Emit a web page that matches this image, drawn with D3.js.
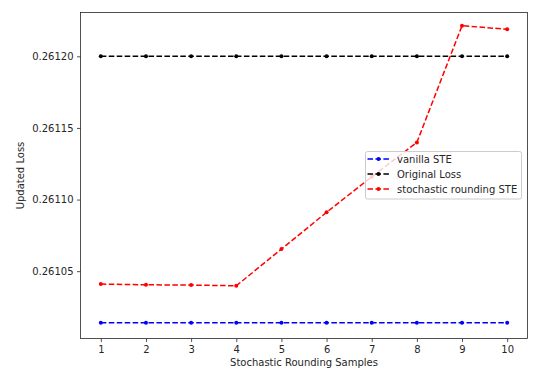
<!DOCTYPE html>
<html>
<head>
<meta charset="utf-8">
<title>Updated Loss</title>
<script src="https://cdn.jsdelivr.net/npm/d3@7"></script>
<style>
  body { margin: 0; background: #fff; }
  text { font-family: "DejaVu Sans", sans-serif; fill: #262626; }
</style>
</head>
<body>
<svg id="svg"></svg>
<script>
var WIDTH = 555, HEIGHT = 376;
var margin = {left: 80.5, top: 12.5, right: 27.5, bottom: 37.5};

// data
var samples = [1, 2, 3, 4, 5, 6, 7, 8, 9, 10];
var vanillaSTE = [0.2610140, 0.2610140, 0.2610140, 0.2610140, 0.2610140,
                  0.2610140, 0.2610140, 0.2610140, 0.2610140, 0.2610140];
var originalLoss = [0.26120, 0.26120, 0.26120, 0.26120, 0.26120,
                    0.26120, 0.26120, 0.26120, 0.26120, 0.26120];
var stochasticSTE = [0.2610410, 0.2610405, 0.2610403, 0.2610398, 0.2610654,
                     0.2610911, 0.2611159, 0.2611399, 0.2612214, 0.2612189];
var yTicks = [0.26105, 0.26110, 0.26115, 0.26120];

var series = [
  {name: "vanilla STE", values: vanillaSTE, color: "#0000ff"},
  {name: "Original Loss", values: originalLoss, color: "#000000"},
  {name: "stochastic rounding STE", values: stochasticSTE, color: "#ff0000"}
];

var svg = d3.select("#svg").attr("width", WIDTH).attr("height", HEIGHT);
var w = WIDTH - margin.left - margin.right;
var h = HEIGHT - margin.top - margin.bottom;
var g = svg.append("g").attr("transform", "translate(" + margin.left + "," + margin.top + ")");

var xScale = d3.scaleLinear().domain([0.55, 10.45]).range([0, w]);
var yScale = d3.scaleLinear().domain([0.2610030, 0.2612306]).range([h, 0]);

var xAxis = g.append("g").attr("transform", "translate(0," + h + ")")
  .call(d3.axisBottom(xScale).tickValues(samples).tickFormat(d3.format("d"))
    .tickSize(3.5).tickPadding(3.5));
var yAxis = g.append("g")
  .call(d3.axisLeft(yScale).tickValues(yTicks).tickFormat(d3.format(".5f"))
    .tickSize(3.5).tickPadding(3.5));
[xAxis, yAxis].forEach(function(a) {
  a.select(".domain").remove();
  a.selectAll("line").attr("stroke", "#262626").attr("stroke-width", 0.8);
  a.selectAll("text").attr("font-size", "10px").attr("fill", "#262626")
    .style("font-family", "'DejaVu Sans', sans-serif");
});

var line = d3.line()
  .x(function(d, i) { return xScale(samples[i]); })
  .y(function(d) { return yScale(d); });

series.forEach(function(s) {
  g.append("path").datum(s.values)
    .attr("d", line)
    .attr("fill", "none")
    .attr("stroke", s.color)
    .attr("stroke-width", 1.5)
    .attr("stroke-dasharray", "5.55,2.4");
  g.selectAll(null).data(s.values).enter().append("circle")
    .attr("cx", function(d, i) { return xScale(samples[i]); })
    .attr("cy", function(d) { return yScale(d); })
    .attr("r", 2)
    .attr("fill", s.color);
});

// frame
g.append("rect").attr("width", w).attr("height", h)
  .attr("fill", "none").attr("stroke", "#262626").attr("stroke-width", 0.8);

// axis labels
svg.append("text")
  .attr("x", margin.left + w / 2).attr("y", 366)
  .attr("text-anchor", "middle").attr("font-size", "10px")
  .text("Stochastic Rounding Samples");
svg.append("text")
  .attr("transform", "translate(24," + (margin.top + h / 2) + ") rotate(-90)")
  .attr("text-anchor", "middle").attr("font-size", "10px")
  .text("Updated Loss");

// legend
var lg = svg.append("g").attr("transform", "translate(365.5,151.5)");
lg.append("rect").attr("width", 156).attr("height", 47.5)
  .attr("rx", 2).attr("ry", 2)
  .attr("fill", "#ffffff").attr("fill-opacity", 0.8)
  .attr("stroke", "#cccccc").attr("stroke-width", 1);
series.forEach(function(s, i) {
  var yy = 7.5 + i * 15;
  lg.append("line").attr("x1", 2).attr("x2", 24).attr("y1", yy).attr("y2", yy)
    .attr("stroke", s.color).attr("stroke-width", 1.5)
    .attr("stroke-dasharray", "5.55,2.4");
  lg.append("circle").attr("cx", 13).attr("cy", yy).attr("r", 2).attr("fill", s.color);
  lg.append("text").attr("x", 31.5).attr("y", yy + 3.6)
    .attr("font-size", "10px").text(s.name);
});
</script>
</body>
</html>
